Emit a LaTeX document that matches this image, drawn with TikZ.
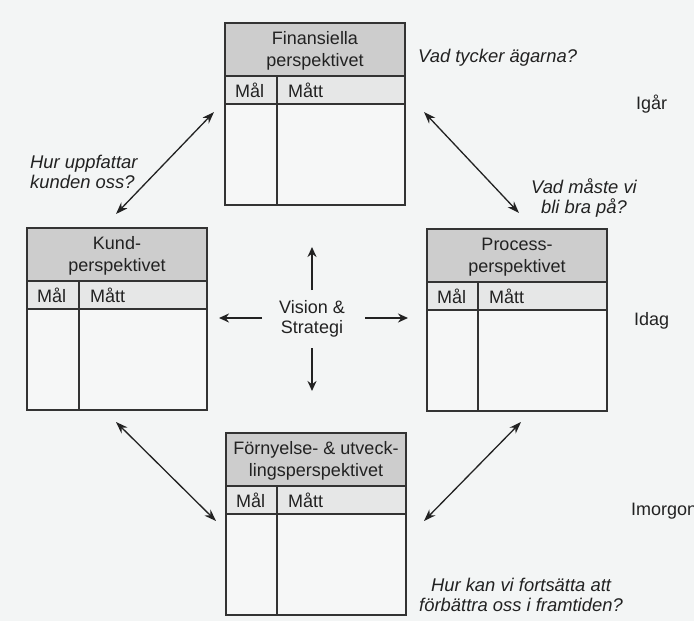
\documentclass[tikz,border=0pt]{standalone}
\usepackage{fontspec}
\setmainfont{Liberation Sans}
\usetikzlibrary{arrows.meta}
\definecolor{bgc}{HTML}{F3F5F5}
\definecolor{hdrc}{HTML}{CDCDCD}
\definecolor{rowc}{HTML}{E6E7E7}
\definecolor{bodyc}{HTML}{F6F7F7}
\definecolor{inkc}{HTML}{222222}
\definecolor{linec}{HTML}{333333}
\tikzset{
  boxline/.style={draw=linec, line width=1.3pt},
  hdr/.style={align=center, inner sep=0pt, text=inkc, font=\fontsize{18}{22}\selectfont},
  cell/.style={anchor=west, inner sep=0pt, text=inkc, font=\fontsize{18}{22}\selectfont},
  quest/.style={inner sep=0pt, text=inkc, font=\fontsize{18.4}{20}\selectfont\itshape},
  plain/.style={inner sep=0pt, text=inkc, font=\fontsize{18}{20}\selectfont},
  dbl/.style={draw=inkc, line width=1.3pt, {Stealth[length=12pt,width=8.5pt]}-{Stealth[length=12pt,width=8.5pt]}},
  outarr/.style={draw=inkc, line width=1.7pt, -{Stealth[length=10pt,width=9pt]}}
}
\newcommand\BSCBox[5]{%
  \fill[hdrc] (#2,#3) rectangle ++(180,53);
  \fill[rowc] (#2,#3+53) rectangle ++(180,28);
  \fill[bodyc] (#2,#3+81) rectangle ++(180,101);
  \draw[boxline] (#2,#3+53) -- ++(180,0);
  \draw[boxline] (#2,#3+81) -- ++(180,0);
  \draw[boxline] (#2+#4,#3+53) -- ++(0,129);
  \draw[boxline] (#2,#3) rectangle ++(180,182);
  \node[hdr] (#1-h) at (#2+90,#3+28) {#5};
  \node[cell] (#1-mal) at (#2+10,#3+67) {Mål};
  \node[cell] (#1-matt) at (#2+#4+11,#3+67) {Mått};
}
\begin{document}
\begin{tikzpicture}[x=1pt,y=-1pt]
\useasboundingbox (0,0) rectangle (694,621);
\fill[bgc] (0,0) rectangle (694,621);
\clip (0,0) rectangle (694,621);

\BSCBox{fin}{225}{23}{52}{Finansiella\\perspektivet}
\BSCBox{kund}{27}{228}{52}{Kund-\\perspektivet}
\BSCBox{proc}{427}{229}{51}{Process-\\perspektivet}
\BSCBox{forn}{226}{433}{51}{Förnyelse- \& utveck-\\lingsperspektivet}

% centre
\node[plain, align=center] (vis) at (312,319) {Vision \&\\Strategi};
\coordinate (upS) at (312,290);   \coordinate (upE) at (312,247);
\coordinate (dnS) at (312,348);   \coordinate (dnE) at (312,391);
\coordinate (ltS) at (262,318);   \coordinate (ltE) at (219,318);
\coordinate (rtS) at (365,318);   \coordinate (rtE) at (408,318);
\draw[outarr] (upS) -- (upE);
\draw[outarr] (dnS) -- (dnE);
\draw[outarr] (ltS) -- (ltE);
\draw[outarr] (rtS) -- (rtE);

% diagonal connectors
\coordinate (tlA) at (214,112); \coordinate (tlB) at (116,214);
\coordinate (trA) at (424,112); \coordinate (trB) at (519,213);
\coordinate (blA) at (116,422); \coordinate (blB) at (216,521);
\coordinate (brA) at (521,422); \coordinate (brB) at (424,521);
\draw[dbl] (tlA) -- (tlB);
\draw[dbl] (trA) -- (trB);
\draw[dbl] (blA) -- (blB);
\draw[dbl] (brA) -- (brB);

% questions
\node[quest, anchor=west] (q1) at (418,58) {Vad tycker ägarna?};
\node[quest, align=center] (q2) at (584,198) {Vad måste vi\\bli bra på?};
\node[quest, align=left, anchor=west] (q3) at (30,172) {Hur uppfattar\\kunden oss?};
\node[quest, align=center] (q4) at (521,595) {Hur kan vi fortsätta att\\förbättra oss i framtiden?};

% time labels
\node[plain, anchor=west] (t1) at (636,104) {Igår};
\node[plain, anchor=west] (t2) at (634,321) {Idag};
\node[plain, anchor=west] (t3) at (631,511) {Imorgon};
\end{tikzpicture}
\end{document}
